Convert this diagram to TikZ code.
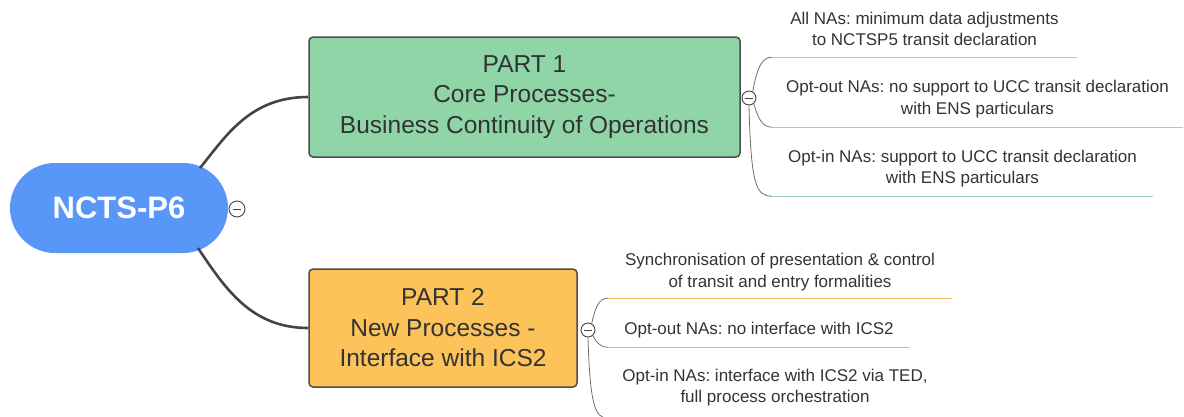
\documentclass[tikz,border=0pt]{standalone}
\usepackage{fontspec}
\setmainfont{Liberation Sans}
\frenchspacing
\definecolor{cblue}{RGB}{88,150,247}
\definecolor{pgreen}{RGB}{143,213,167}
\definecolor{porange}{RGB}{252,195,91}
\definecolor{bordergray}{RGB}{77,77,77}
\definecolor{tgray}{RGB}{51,51,51}
\definecolor{trunkgray}{RGB}{68,68,68}
\definecolor{branchgray}{RGB}{110,110,110}
\definecolor{ulgreen}{RGB}{158,212,176}
\definecolor{ulorange}{RGB}{243,185,92}
\begin{document}
\begin{tikzpicture}[x=1pt,y=-1pt,
  root/.style={rectangle, rounded corners=45pt, fill=cblue, minimum width=218pt, minimum height=90pt, inner sep=0pt, text=white, font=\fontsize{31}{36}\selectfont\bfseries},
  part/.style={rectangle, rounded corners=4pt, draw=bordergray, line width=1.5pt, inner sep=0pt, align=center, text=tgray, font=\fontsize{24.5}{30.5}\selectfont},
  leaf/.style={rectangle, inner sep=0pt, align=center, text=tgray, font=\fontsize{17}{21.5}\selectfont},
  toggle/.style={circle, draw=trunkgray, fill=white, line width=0.9pt, minimum size=14pt, inner sep=0pt,
    path picture={\draw[line width=1pt, trunkgray] ([xshift=-4pt]path picture bounding box.center) -- ([xshift=4pt]path picture bounding box.center);}},
  trunk/.style={draw=trunkgray, line width=2.6pt},
  branch/.style={draw=branchgray, line width=0.8pt},
  ugreen/.style={draw=ulgreen, line width=1pt},
  uorange/.style={draw=ulorange, line width=1pt}]
\useasboundingbox (0,0) rectangle (1184,416);
% root
\node[root] (root) at (119,208) {NCTS-P6};
% parts
\node[part, fill=pgreen, minimum width=431pt, minimum height=120pt] (p1) at (524.5,97) {PART 1\\Core Processes-\\Business Continuity of Operations};
\node[part, fill=porange, minimum width=268pt, minimum height=118pt] (p2) at (443,328) {PART 2\\New Processes -\\Interface with ICS2};
\coordinate (r1) at (200,168);
\coordinate (r2) at (198,248);
\draw[trunk] (r1) .. controls (226,136) and (250,97) .. (p1.west);
\draw[trunk] (r2) .. controls (226,290) and (252,328) .. (p2.west);
% leaves part 1
\node[leaf, minimum width=305pt, minimum height=56pt] (a1) at (924.5,29) {All NAs: minimum data adjustments\\to NCTSP5 transit declaration};
\node[leaf, minimum width=411pt, minimum height=56pt] (a2) at (977.5,99) {Opt-out NAs: no support to UCC transit declaration\\with ENS particulars};
\node[leaf, minimum width=381pt, minimum height=55pt] (a3) at (962.5,168.5) {Opt-in NAs: support to UCC transit declaration\\with ENS particulars};
% leaves part 2
\node[leaf, minimum width=344pt, minimum height=52pt] (b1) at (780,272) {Synchronisation of presentation \& control\\of transit and entry formalities};
\node[leaf, minimum width=302pt, minimum height=34pt] (b2) at (759,330) {Opt-out NAs: no interface with ICS2};
\node[leaf, minimum width=334pt, minimum height=61pt] (b3) at (775,387.5) {Opt-in NAs: interface with ICS2 via TED,\\full process orchestration};
% underlines
\draw[ugreen] (a1.south west) -- (a1.south east);
\draw[ugreen] (a2.south west) -- (a2.south east);
\draw[ugreen] (a3.south west) -- (a3.south east);
\draw[uorange] (b1.south west) -- (b1.south east);
\draw[uorange] (b2.south west) -- (b2.south east);
\draw[uorange] (b3.south west) -- (b3.south east);
% toggles
\node[toggle, minimum size=16pt] (t0) at (237,209) {};
\node[toggle] (o1) at (749,98) {};
\node[toggle] (o2) at (588,330) {};
% branches
\draw[branch] (o1.60) .. controls (757,68) and (762,57) .. (a1.south west);
\draw[branch] (o1.-50) .. controls (758,118) and (762,127) .. (a2.south west);
\draw[branch] (o1.south) .. controls (751,185) and (756,196) .. (a3.south west);
\draw[branch] (o2.60) .. controls (595,308) and (599,298) .. (b1.south west);
\draw[branch] (o2.-50) .. controls (596,342) and (600,347) .. (b2.south west);
\draw[branch] (o2.south) .. controls (590,405) and (595,418) .. (b3.south west);
\end{tikzpicture}
\end{document}
